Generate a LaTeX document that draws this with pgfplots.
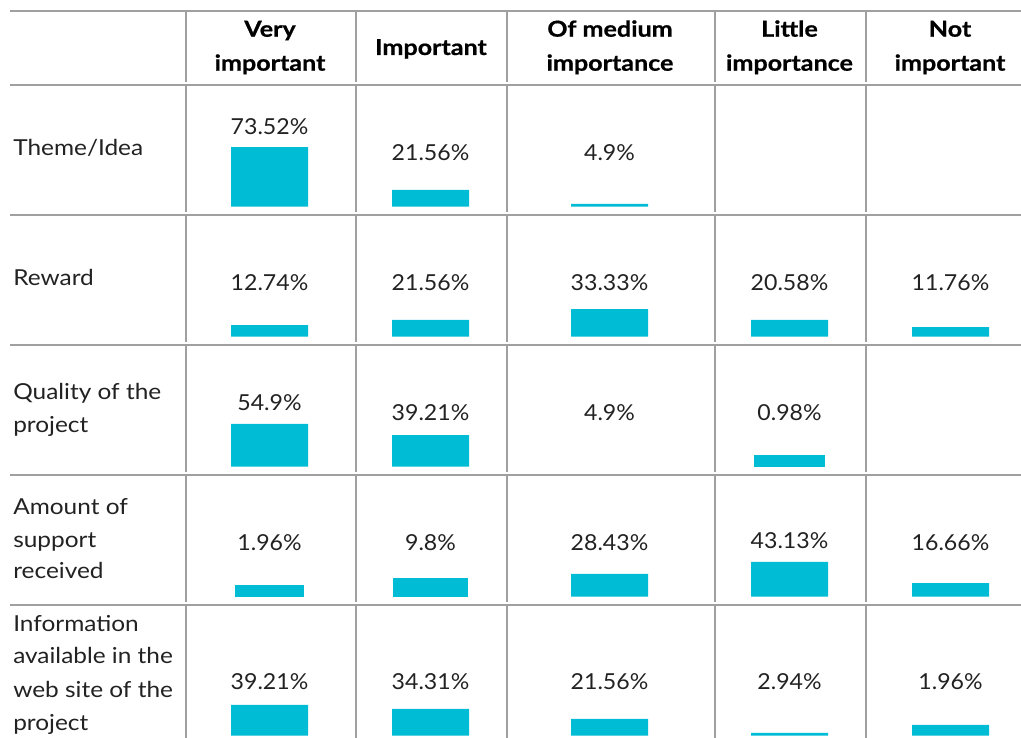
\documentclass[border=0pt]{standalone}
\usepackage{pgfplots}
\pgfplotsset{compat=1.18}
\usepackage{pgfplotstable}
\usepackage{fontspec}
\setmainfont{Lato}
\newfontfamily\rowfont{Lato}[FakeStretch=1.11]
\newfontfamily\valfont{Lato}[FakeStretch=1.05]
\newfontfamily\headfont{Lato}[FakeStretch=1.14, BoldFeatures={FakeBold=0.7}]
\definecolor{barc}{RGB}{0,188,212}
\definecolor{gridc}{RGB}{160,160,160}
\definecolor{txt}{RGB}{34,34,34}
\newcommand\tf{\rowfont\fontsize{16.5}{20}\selectfont}
\newcommand\vf{\valfont\fontsize{16.5}{20}\selectfont}
\newcommand\hf{\headfont\fontsize{16.5}{20}\selectfont\bfseries}

% columns: x = bar centre (px), h = bar height as drawn (0.8 px units), w = bar width as drawn (px, 0 = no bar), lab = value
\pgfplotstableread{
x h w lab
269.5 74.6 77 73.52\%
430.5 20.9 77 21.56\%
609.5 3.4 77 4.9\%
}\rowone
\pgfplotstableread{
x h w lab
269.5 14.6 77 12.74\%
430.5 20.9 77 21.56\%
609.5 34.6 77 33.33\%
789.5 20.9 77 20.58\%
950.5 12.1 77 11.76\%
}\rowtwo
\pgfplotstableread{
x h w lab
269.5 53.4 77 54.9\%
430.5 39.6 77 39.21\%
609.5 0 0 4.9\%
789.5 14.6 71 0.98\%
}\rowthree
\pgfplotstableread{
x h w lab
269.5 14.6 69 1.96\%
430.5 23.4 75 9.8\%
609.5 28.4 77 28.43\%
789.5 43.4 77 43.13\%
950.5 17.1 77 16.66\%
}\rowfour
\pgfplotstableread{
x h w lab
269.5 38.4 77 39.21\%
430.5 33.4 77 34.31\%
609.5 20.9 77 21.56\%
789.5 3.4 77 2.94\%
950.5 13.4 77 1.96\%
}\rowfive

\pgfplotsset{
  rowax/.style={x=0.75pt, y=0.6pt, xmin=0, xmax=1021, ymin=0, ymax=120,
    hide axis, clip=false, anchor=south west},
  bars/.style={ybar, bar width=#1, fill=barc, draw=none,
    restrict expr to domain={abs(\thisrow{w}-#1)}{0:0.5}},
  vals/.style={draw=none, mark=none, nodes near coords, point meta=explicit symbolic,
    every node near coord/.append style={anchor=base, inner sep=0pt, font=\vf, text=txt}},
  gl/.style={color=gridc, line width=1.5pt, mark=none, unbounded coords=jump},
}
\tikzset{rl/.style={anchor=base west, inner sep=0pt, font=\tf, text=txt},
         hl/.style={anchor=base, inner sep=0pt, font=\hf}}

\begin{document}
\begin{tikzpicture}
\begin{axis}[x=0.75pt, y=0.75pt, xmin=0, xmax=1021, ymin=0, ymax=738,
  hide axis, clip=false, anchor=south west, at={(0,0)}]
% horizontal rules
\addplot[gl] coordinates {(10,727) (1021,727)};
\addplot[gl] coordinates {(10,653) (1021,653)};
\addplot[gl] coordinates {(10,523) (1021,523)};
\addplot[gl] coordinates {(10,393) (1021,393)};
\addplot[gl] coordinates {(10,263) (1021,263)};
\addplot[gl] coordinates {(10,133) (1021,133)};
% vertical rules
\addplot[gl] coordinates {(186,727)(186,656)(186,nan)(186,652)(186,526)(186,nan)(186,522)(186,396)(186,nan)(186,392)(186,266)(186,nan)(186,262)(186,136)(186,nan)(186,132)(186,0)};
\addplot[gl] coordinates {(356,727)(356,656)(356,nan)(356,652)(356,526)(356,nan)(356,522)(356,396)(356,nan)(356,392)(356,266)(356,nan)(356,262)(356,136)(356,nan)(356,132)(356,0)};
\addplot[gl] coordinates {(507,727)(507,656)(507,nan)(507,652)(507,526)(507,nan)(507,522)(507,396)(507,nan)(507,392)(507,266)(507,nan)(507,262)(507,136)(507,nan)(507,132)(507,0)};
\addplot[gl] coordinates {(715,727)(715,656)(715,nan)(715,652)(715,526)(715,nan)(715,522)(715,396)(715,nan)(715,392)(715,266)(715,nan)(715,262)(715,136)(715,nan)(715,132)(715,0)};
\addplot[gl] coordinates {(866,727)(866,656)(866,nan)(866,652)(866,526)(866,nan)(866,522)(866,396)(866,nan)(866,392)(866,266)(866,nan)(866,262)(866,136)(866,nan)(866,132)(866,0)};
% header
\node[hl] at (axis cs:270,701.3) {Very};
\node[hl] at (axis cs:270,667.3) {important};
\node[hl] at (axis cs:431,683) {Important};
\node[hl] at (axis cs:610,701.3) {Of medium};
\node[hl] at (axis cs:610,667.3) {importance};
\node[hl] at (axis cs:789.5,701.3) {Little};
\node[hl] at (axis cs:789.5,667.3) {importance};
\node[hl] at (axis cs:950,701.3) {Not};
\node[hl] at (axis cs:950,667.3) {important};
% row labels
\node[rl] at (axis cs:13,582) {Theme/Idea};
\node[rl] at (axis cs:13,452) {Reward};
\node[rl] at (axis cs:13,338) {Quality of the};
\node[rl] at (axis cs:13,305.7) {project};
\node[rl] at (axis cs:13,223.7) {Amount of};
\node[rl] at (axis cs:13,190.7) {support};
\node[rl] at (axis cs:13,159.7) {received};
\node[rl] at (axis cs:13,106.3) {Information};
\node[rl] at (axis cs:13,74) {available in the};
\node[rl] at (axis cs:13,40.7) {web site of the};
\node[rl] at (axis cs:13,7.3) {project};
\coordinate (b1) at (axis cs:0,531.3);
\coordinate (b2) at (axis cs:0,401.3);
\coordinate (b3) at (axis cs:0,271.3);
\coordinate (b4) at (axis cs:0,141.3);
\coordinate (b5) at (axis cs:0,2.3);
\coordinate (c00) at (axis cs:0,0);
\coordinate (c11) at (axis cs:1021,738);
\end{axis}

\begin{axis}[rowax, at={(b1)}]
\addplot[bars=77] table[x=x, y=h] {\rowone};
\addplot[vals] table[x=x, y expr={max(57.5,\thisrow{h}+16.25)}, meta=lab] {\rowone};
\end{axis}
\begin{axis}[rowax, at={(b2)}]
\addplot[bars=77] table[x=x, y=h] {\rowtwo};
\addplot[vals] table[x=x, y expr={max(57.5,\thisrow{h}+16.25)}, meta=lab] {\rowtwo};
\end{axis}
\begin{axis}[rowax, at={(b3)}]
\addplot[bars=77] table[x=x, y=h] {\rowthree};
\addplot[bars=71] table[x=x, y=h] {\rowthree};
\addplot[vals] table[x=x, y expr={max(57.5,\thisrow{h}+16.25)}, meta=lab] {\rowthree};
\end{axis}
\begin{axis}[rowax, at={(b4)}]
\addplot[bars=77] table[x=x, y=h] {\rowfour};
\addplot[bars=75] table[x=x, y=h] {\rowfour};
\addplot[bars=69] table[x=x, y=h] {\rowfour};
\addplot[vals] table[x=x, y expr={max(57.5,\thisrow{h}+16.25)}, meta=lab] {\rowfour};
\end{axis}
\begin{axis}[rowax, at={(b5)}]
\addplot[bars=77] table[x=x, y=h] {\rowfive};
\addplot[vals] table[x=x, y expr={max(57.5,\thisrow{h}+16.25)}, meta=lab] {\rowfive};
\end{axis}
\pgfresetboundingbox
\path[use as bounding box] (c00) rectangle (c11);
\end{tikzpicture}
\end{document}
